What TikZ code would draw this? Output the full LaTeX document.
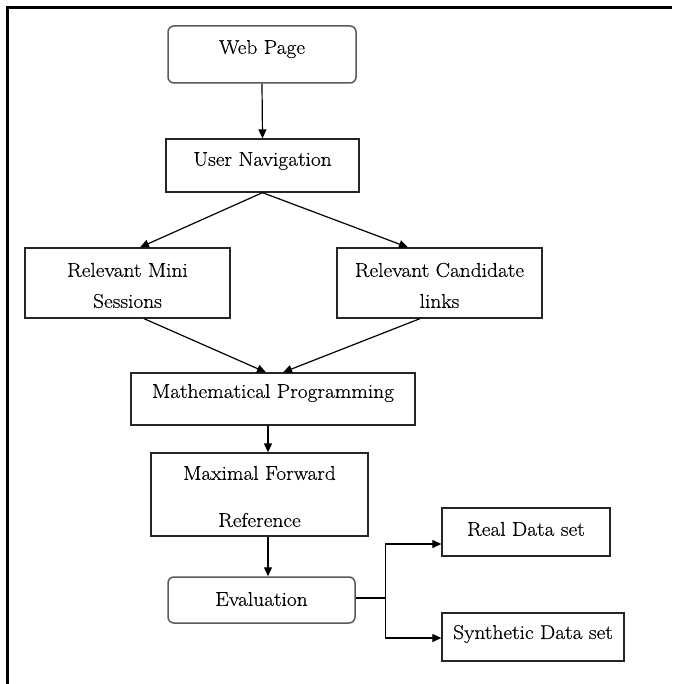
\documentclass[tikz,border=0pt]{standalone}
\usepackage{fontspec}
\setmainfont{Latin Modern Roman}[FakeStretch=1.07,FakeBold=0.4]
\usetikzlibrary{arrows.meta}
\begin{document}
\begin{tikzpicture}[x=1pt,y=-1pt,
  box/.style={draw=black!85, line width=1.3pt, inner sep=0pt},
  rbox/.style={draw=black!65, line width=1.5pt, rounded corners=6pt, inner sep=0pt},
  txt/.style={font=\fontsize{20}{24}\selectfont, inner sep=0pt, anchor=center},
  arr/.style={draw=black, line width=1.2pt, -{Triangle[length=9pt,width=8pt]}},
  ln/.style={draw=black, line width=1.2pt}]
\useasboundingbox (0,0) rectangle (672,684);
% frame
\draw[line width=2.8pt] (6,7.5) -- (672,7.5);
\draw[line width=2.8pt] (7.5,6) -- (7.5,684);
% boxes
\node[rbox, minimum width=188pt, minimum height=57pt] (web) at (262,54.5) {};
\node[box, minimum width=193pt, minimum height=53pt] (un) at (262.5,165.5) {};
\node[box, minimum width=205pt, minimum height=70pt] (rms) at (127.5,283) {};
\node[box, minimum width=205pt, minimum height=70pt] (rcl) at (439.5,283) {};
\node[box, minimum width=284pt, minimum height=52pt] (mp) at (273,399) {};
\node[box, minimum width=217pt, minimum height=83pt] (mfr) at (259.5,494.5) {};
\node[rbox, minimum width=187pt, minimum height=46pt] (ev) at (261.5,600) {};
\node[box, minimum width=168pt, minimum height=48pt] (real) at (526,532) {};
\node[box, minimum width=182pt, minimum height=48pt] (syn) at (533,637) {};
% texts
\node[txt] (tweb) at (262,49) {Web Page};
\node[txt] (tun) at (262.5,161) {User Navigation};
\node[txt] (trms1) at (127.5,270) {Relevant Mini};
\node[txt] (trms2) at (127.5,301) {Sessions};
\node[txt] (trcl1) at (439.5,270) {Relevant Candidate};
\node[txt] (trcl2) at (439.5,301) {links};
\node[txt] (tmp) at (273,393) {Mathematical Programming};
\node[txt] (tmfr1) at (259.5,473) {Maximal Forward};
\node[txt] (tmfr2) at (259.5,520) {Reference};
\node[txt] (tev) at (261.5,599) {Evaluation};
\node[txt] (treal) at (526,529) {Real Data set};
\node[txt] (tsyn) at (533,634) {Synthetic Data set};
% connectors
\draw[arr] (web.south) -- (un.north);
\draw[arr] (un.south) -- ([xshift=12.5pt]rms.north);
\draw[arr] (un.south) -- ([xshift=-31.5pt]rcl.north);
\draw[arr] ([xshift=16.5pt]rms.south) -- ([xshift=-7pt]mp.north);
\draw[arr] ([xshift=-19.5pt]rcl.south) -- ([xshift=10pt]mp.north);
\draw[arr] ([xshift=-5pt]mp.south) -- ([xshift=8.5pt]mfr.north);
\draw[arr] ([xshift=8.5pt]mfr.south) -- ([xshift=6.5pt]ev.north);
\draw[ln] ([yshift=2pt]ev.east) -- ++(30,0) coordinate (j);
\draw[arr] (j) |- ([yshift=-12pt]real.west);
\draw[arr] (j) |- ([yshift=-1pt]syn.west);
\end{tikzpicture}
\end{document}
